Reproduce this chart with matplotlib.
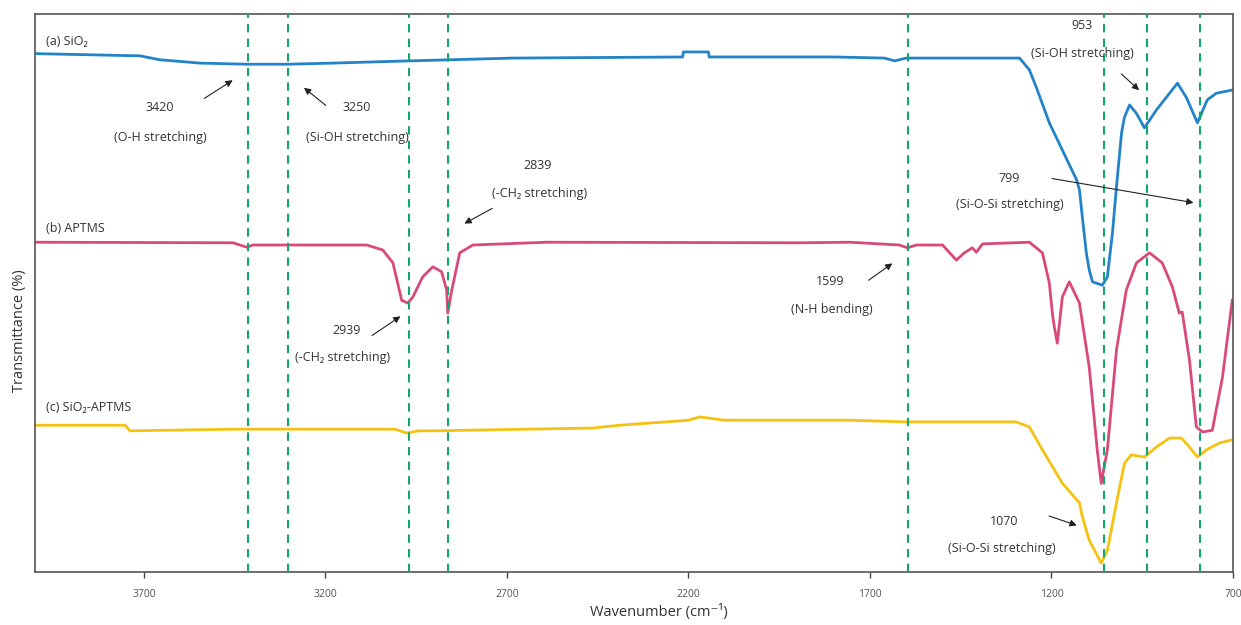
import matplotlib.pyplot as plt

plt.rcParams['font.family'] = ['Open Sans', 'DejaVu Sans']

# (a) SiO2
sio2_wn = [4000, 3711, 3656, 3546, 3416, 3303, 3180, 2968, 2684, 2216, 2214, 2145, 2143,
           1800, 1660, 1632, 1600, 1288, 1261, 1242, 1206, 1170, 1131, 1123, 1115, 1104,
           1096, 1087, 1060, 1046, 1032, 1021, 1007, 999, 985, 966, 944, 911, 853, 829,
           798, 771, 746, 700]
sio2_t = [92.9, 92.5, 91.8, 91.2, 91.0, 91.0, 91.2, 91.6, 92.1, 92.3, 93.2, 93.2, 92.3,
          92.3, 92.1, 91.6, 92.1, 92.1, 90.0, 86.9, 80.5, 75.6, 70.3, 68.5, 63.6, 57.2,
          54.1, 52.0, 51.4, 52.9, 60.8, 69.0, 78.7, 81.5, 83.7, 82.2, 79.6, 82.8, 87.6, 85.1,
          80.5, 84.6, 85.8, 86.4]

# (b) APTMS
aptms_wn = [4000, 3455, 3416, 3400, 3306, 3086, 3042, 3014, 2990, 2973, 2959, 2932, 2904,
            2880, 2866, 2863, 2852, 2830, 2794, 2590, 1894, 1756, 1619, 1597, 1572, 1500,
            1462, 1440, 1418, 1407, 1390, 1261, 1225, 1206, 1197, 1192, 1184, 1170, 1151,
            1123, 1096, 1074, 1063, 1046, 1021, 994, 966, 930, 895, 867, 848, 840, 820,
            801, 784, 757, 729, 702]
aptms_t = [59.1, 59.0, 58.2, 58.6, 58.6, 58.6, 57.7, 55.4, 48.7, 48.2, 49.3, 52.9, 54.7,
           53.8, 50.5, 46.4, 50.5, 57.2, 58.6, 59.1, 59.0, 59.1, 58.6, 58.1, 58.6, 58.6,
           55.9, 57.2, 58.1, 57.3, 58.8, 59.1, 57.2, 51.8, 46.0, 43.9, 41.0, 49.3, 52.0,
           48.2, 36.7, 21.9, 15.9, 21.9, 39.8, 50.5, 55.4, 57.2, 55.4, 51.1, 46.4, 46.6, 38.0,
           26.0, 25.1, 25.4, 34.9, 48.7]

# (c) SiO2-APTMS
hybrid_wn = [4000, 3752, 3738, 3444, 3009, 2976, 2943, 2899, 2464, 2390, 2200, 2169, 2100,
             1756, 1599, 1297, 1261, 1225, 1170, 1123, 1115, 1096, 1063, 1046, 1021, 999,
             980, 944, 911, 875, 842, 820, 798, 773, 738, 702]
hybrid_t = [26.3, 26.3, 25.3, 25.6, 25.6, 24.9, 25.3, 25.3, 25.8, 26.3, 27.2, 27.8, 27.2,
            27.2, 26.9, 26.9, 26.0, 21.9, 15.9, 12.4, 9.9, 5.7, 1.6, 3.9, 12.4, 19.5,
            21.0, 20.6, 22.4, 24.0, 24.0, 22.4, 20.6, 21.9, 23.1, 23.7]

series_names = ['(a) SiO₂', '(b) APTMS', '(c) SiO₂-APTMS']
marker_lines = [3413, 3303, 2970, 2862, 1595, 1055, 937, 791]
x_ticks = [3700, 3200, 2700, 2200, 1700, 1200, 700]

peak_labels = ['3420', '3250', '2839', '2939', '1599', '953', '799', '1070']
peak_notes = ['(O-H stretching)', '(Si-OH stretching)', '(-CH₂ stretching)',
              '(-CH₂ stretching)', '(N-H bending)', '(Si-OH stretching)',
              '(Si-O-Si stretching)', '(Si-O-Si stretching)']

# posiciones de las etiquetas (numero, nota, cola y punta de flecha)
num_pos = [(3656, 83.3), (3114, 83.3), (2615, 72.9), (3141, 43.2),
           (1811, 52.0), (1115, 98.0), (1316, 70.6), (1330, 9.0)]
note_pos = [(3656, 77.9), (3111, 77.9), (2610, 67.9), (3152, 38.4),
            (1806, 47.0), (1115, 93.0), (1316, 65.8), (1336, 4.3)]
arrow_tail = [(3540, 84.6), (3193, 83.3), (2734, 65.4), (3078, 42.1),
              (1710, 52.0), (1013, 89.6), (1206, 70.6), (1214, 10.2)]
arrow_head = [(3449, 88.4), (3265, 87.1), (2824, 62.2), (2987, 46.1),
              (1632, 55.6), (953, 86.0), (801, 66.1), (1123, 8.2)]

fig = plt.figure(figsize=(12.41, 6.25), dpi=100)
ax = fig.add_axes([35 / 1241, 1 - 572 / 625, 1198 / 1241, 558 / 625])

ax.plot(sio2_wn, sio2_t, color='#2383c9', lw=2)
ax.plot(aptms_wn, aptms_t, color='#d94a7b', lw=2)
ax.plot(hybrid_wn, hybrid_t, color='#f5c211', lw=2)

for wn in marker_lines:
    ax.axvline(wn, color='#13a66b', lw=1.5, ls=(0, (4, 3)), zorder=3)

text_kw = dict(fontsize=9, color='#333333')
ax.text(3970, 95.0, series_names[0], va='center', **text_kw)
ax.text(3970, 61.5, series_names[1], va='center', **text_kw)
ax.text(3970, 29.4, series_names[2], va='center', **text_kw)

for lab, note, p1, p2, tail, head in zip(peak_labels, peak_notes, num_pos, note_pos,
                                         arrow_tail, arrow_head):
    ax.text(p1[0], p1[1], lab, ha='center', va='center', **text_kw)
    ax.text(p2[0], p2[1], note, ha='center', va='center', **text_kw)
    ax.annotate('', xy=head, xytext=tail,
                arrowprops=dict(arrowstyle='-|>', color='#222222', lw=0.8,
                                mutation_scale=10))

ax.set_xlim(4000, 700)
ax.set_ylim(0, 100)
ax.set_xticks(x_ticks)
ax.set_xticklabels([str(t) for t in x_ticks])
ax.set_yticks([])
ax.tick_params(axis='x', direction='out', length=4, width=1, colors='#444444',
               labelsize=7.5, labelcolor='#555555', pad=8)
for sp in ax.spines.values():
    sp.set_color('#555555')
    sp.set_linewidth(1.2)

fig.text(659 / 1241, 1 - 612 / 625, 'Wavenumber (cm⁻¹)', ha='center', va='center',
         fontsize=10.5, color='#333333')
fig.text(20 / 1241, 1 - 331 / 625, 'Transmittance (%)', ha='center', va='center',
         rotation=90, fontsize=10.5, color='#333333')

fig.savefig('out.png', dpi=100)
